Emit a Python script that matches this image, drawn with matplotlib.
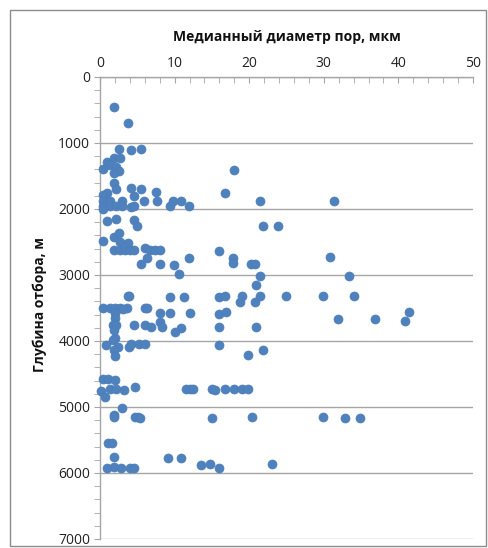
import matplotlib.pyplot as plt
from matplotlib.patches import Rectangle
from matplotlib.ticker import MultipleLocator

plt.rcParams['font.family'] = ['Open Sans', 'DejaVu Sans']

# median pore diameter (um) and sampling depth (m)
diameter = [
    1.9, 3.8,
    2.5, 4.1, 5.5,
    1.0, 1.9, 2.7, 1.3, 2.1, 0.4, 2.5, 1.9,
    17.9,
    1.9,
    2.1, 4.2, 5.5, 7.5, 16.8,
    0.9, 0.45, 4.5,
    0.45, 1.3, 2.9, 5.9, 7.6, 9.8, 10.8, 21.4, 31.4,
    0.45, 1.3, 2.2, 2.9, 4.1, 4.5, 9.4, 11.9,
    0.45,
    0.9, 2.2, 4.6, 5.0, 21.9, 23.9,
    0.36, 1.9, 2.5, 2.7, 3.8,
    1.9, 2.7, 3.35, 4.0, 4.6, 6.0, 6.7, 7.4, 8.0, 16.0,
    6.3, 11.9, 17.8, 30.8,
    5.5, 8.0, 9.9, 17.8, 20.3, 20.8,
    10.6, 21.4, 33.4,
    20.9,
    3.7, 3.9, 9.4, 11.2, 16.0, 16.7, 19.0, 21.4, 24.9, 29.9, 34.0,
    18.8, 20.8,
    0.45, 1.3, 2.0, 2.7, 3.6, 3.1, 6.0, 6.3,
    8.0, 9.4, 12.1, 16.0, 16.9, 41.4, 2.0,
    2.0, 31.9, 36.9, 40.9, 8.0,
    1.8, 2.2, 4.6, 6.0, 6.9, 8.3, 10.9, 16.0, 20.9,
    1.9, 10.0, 2.0,
    0.8, 1.8, 2.4, 3.9, 4.2, 5.2, 6.0, 16.0, 21.9, 1.9, 2.0, 19.9,
    0.45, 1.1, 2.0,
    0.2, 0.7, 1.3, 2.1, 3.2, 4.7, 11.5, 12.0, 12.4, 15.0, 15.4, 16.8, 17.9, 19.0, 19.9,
    3.0,
    1.9, 1.9, 4.7, 5.1, 5.4, 15.0, 20.4, 29.9, 32.9, 34.9,
    1.1, 1.6,
    1.9, 9.1, 10.9,
    1.0, 1.9, 2.8, 4.0, 4.6, 13.6, 14.7, 15.9, 23.0,
]
depth = [
    460, 690,
    1095, 1110, 1095,
    1283, 1222, 1222, 1333, 1358, 1394, 1424, 1460,
    1414,
    1611,
    1697, 1680, 1700, 1740, 1758,
    1762, 1788, 1797,
    1879, 1879, 1879, 1879, 1879, 1879, 1879, 1884, 1884,
    1949, 1949, 1949, 1949, 1964, 1950, 1950, 1950,
    2000,
    2182, 2151, 2167, 2253, 2258, 2258,
    2480, 2418, 2369, 2495, 2520,
    2621, 2621, 2621, 2621, 2621, 2596, 2621, 2621, 2621, 2631,
    2737, 2737, 2737, 2732,
    2838, 2833, 2848, 2823, 2833, 2833,
    2990, 3010, 3010,
    3151,
    3318, 3318, 3328, 3328, 3328, 3318, 3318, 3318, 3318, 3318, 3318,
    3404, 3404,
    3505, 3505, 3505, 3505, 3505, 3515, 3505, 3505,
    3580, 3580, 3580, 3590, 3555, 3565, 3580,
    3657, 3667, 3667, 3697, 3707,
    3758, 3758, 3758, 3758, 3783, 3783, 3798, 3783, 3783,
    3833, 3858, 3960,
    4060, 3985, 4086, 4086, 4045, 4045, 4045, 4060, 4136, 4136, 4227, 4212,
    4580, 4580, 4590,
    4753, 4850, 4732, 4732, 4742, 4692, 4732, 4732, 4732, 4732, 4742, 4732, 4732, 4732, 4732,
    5020,
    5121, 5156, 5146, 5156, 5161, 5161, 5156, 5156, 5167, 5167,
    5550, 5550,
    5753, 5778, 5778,
    5919, 5904, 5919, 5919, 5919, 5879, 5868, 5919, 5864,
]

W, H = 488, 548
fig = plt.figure(figsize=(W / 100, H / 100), dpi=100)
ax = fig.add_axes([100 / W, 1 - 539 / H, 373 / W, 462 / H])

ax.scatter(diameter, depth, s=42, color='#4F81BD', edgecolor='#4A7EBB',
           linewidth=0.5, zorder=3, clip_on=False)

ax.set_xlim(0, 50)
ax.set_ylim(7000, 0)
ax.xaxis.tick_top()
ax.xaxis.set_major_locator(MultipleLocator(10))
ax.xaxis.set_minor_locator(MultipleLocator(2))
ax.yaxis.set_major_locator(MultipleLocator(1000))
ax.yaxis.set_minor_locator(MultipleLocator(200))

ax.grid(axis='y', which='major', color='#A6A6A6', linewidth=1)
ax.set_axisbelow(True)
for side in ('right', 'bottom'):
    ax.spines[side].set_visible(False)
for side in ('left', 'top'):
    ax.spines[side].set_color('#A6A6A6')
    ax.spines[side].set_linewidth(1)

ax.tick_params(axis='x', which='both', direction='in', length=4, color='#A6A6A6',
               labelsize=10, pad=4, labelcolor='#222222')
ax.tick_params(axis='y', which='both', direction='out', length=4, color='#A6A6A6',
               labelsize=10, pad=3, labelcolor='#222222')

fig.text(286.5 / W, 1 - 37 / H, 'Медианный диаметр пор, мкм', ha='center', va='center',
         fontsize=10, fontweight='bold', color='#111111')
fig.text(40 / W, 1 - 305 / H, 'Глубина отбора, м', ha='center', va='center',
         rotation=90, fontsize=10, fontweight='bold', color='#111111')

# chart area frame
fig.patches.append(Rectangle((10 / W, 2 / H), 476 / W, 536 / H, transform=fig.transFigure,
                             fill=False, edgecolor='#8C8C8C', linewidth=1))

fig.savefig('out.png', dpi=100)
